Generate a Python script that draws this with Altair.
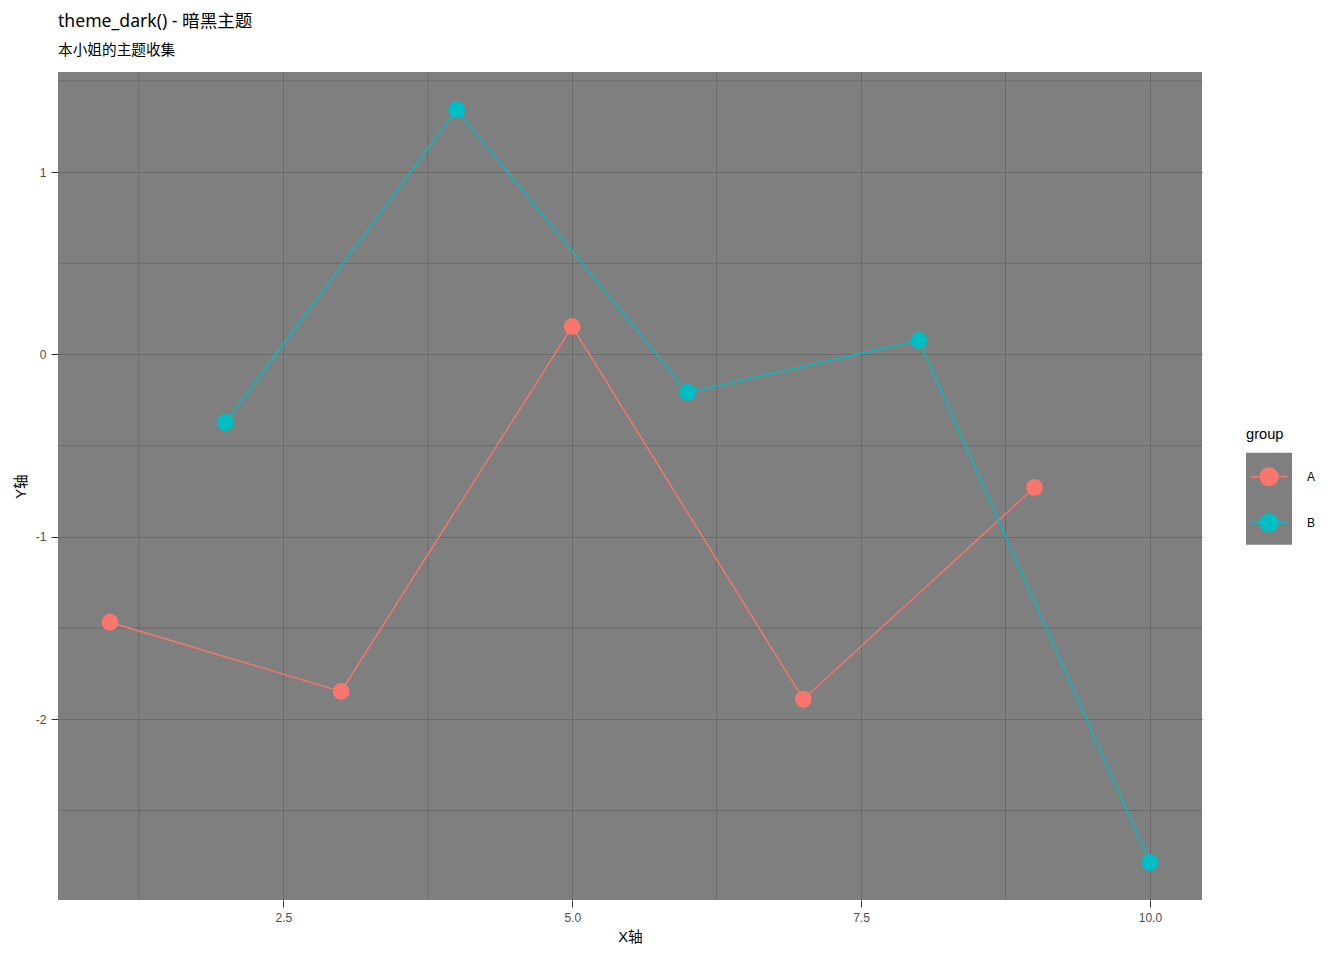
import altair as alt
import pandas as pd

# ---- data ----
group_a_x = [1, 3, 5, 7, 9]
group_a_y = [-1.468, -1.847, 0.153, -1.890, -0.729]
group_b_x = [2, 4, 6, 8, 10]
group_b_y = [-0.373, 1.342, -0.208, 0.077, -2.784]
groups = ["A", "B"]
colors = ["#F8766D", "#00BFC4"]
x_major = [2.5, 5.0, 7.5, 10.0]
x_minor = [1.25, 3.75, 6.25, 8.75]
y_major = [-2, -1, 0, 1]
y_minor = [-2.5, -1.5, -0.5, 0.5, 1.5]

df = pd.DataFrame({
    "x": group_a_x + group_b_x,
    "y": group_a_y + group_b_y,
    "group": ["A"] * len(group_a_x) + ["B"] * len(group_b_x),
})
df["keybg"] = "key"

# ggplot-like 5% expansion
xlo, xhi = df["x"].min(), df["x"].max()
ylo, yhi = df["y"].min(), df["y"].max()
px = 0.05 * (xhi - xlo)
py = 0.05 * (yhi - ylo)
x_scale = alt.Scale(domain=[xlo - px, xhi + px], nice=False, zero=False)
y_scale = alt.Scale(domain=[ylo - py, yhi + py], nice=False, zero=False)

LAT = "Liberation Sans, Noto Sans CJK SC, sans-serif"
GRID = "#6B6B6B"
PANEL = "#7F7F7F"

x_axis = alt.Axis(values=x_major, format=".1f", title="X轴", grid=True,
                  gridColor=GRID, gridWidth=1, domain=False,
                  tickColor="#333333", tickSize=7, tickWidth=1,
                  labelColor="#4D4D4D", labelFontSize=12, labelFont=LAT,
                  labelPadding=5, titleFont=LAT, titleFontSize=14.67,
                  titleFontWeight="normal", titleColor="#000000", titlePadding=6)
y_axis = alt.Axis(values=y_major, labelExpr="'' + datum.value", title="Y轴",
                  grid=True, gridColor=GRID, gridWidth=1, domain=False,
                  tickColor="#333333", tickSize=7, tickWidth=1,
                  labelColor="#4D4D4D", labelFontSize=12, labelFont=LAT,
                  labelPadding=5, titleFont=LAT, titleFontSize=14.67,
                  titleFontWeight="normal", titleColor="#000000", titlePadding=7)

# legend key symbol: circle with a horizontal line through it, in a 46px key
# (zero-area corner points make the symbol bounds span the whole key)
key_path = ("M-1,-1L-1,-1ZM1,1L1,1Z"
            "M-0.8,-0.036L-0.4,-0.036L-0.4,0.036L-0.8,0.036Z"
            "M0.4,-0.036L0.8,-0.036L0.8,0.036L0.4,0.036Z"
            "M-0.413,0A0.413,0.413,0,1,1,0.413,0A0.413,0.413,0,1,1,-0.413,0Z")
# key background: one grey block covering both 46px keys
bg_path = "M-1,-1L1,-1L1,3L-1,3Z"

legend_common = dict(orient="none", legendX=1188, symbolSize=2116,
                     padding=0, labelOffset=15, labelFontSize=12,
                     labelFont=LAT, labelColor="#000000", offset=0,
                     symbolStrokeWidth=0, symbolOpacity=1, rowPadding=0)

fg_legend = alt.Legend(symbolType=key_path, zindex=2, legendY=355,
                       title="group", titleColor="#000000", titleFontSize=14.67,
                       titleFont=LAT, titleFontWeight="normal", titlePadding=12,
                       **legend_common)
bg_legend = alt.Legend(symbolType=bg_path, zindex=1, legendY=380.67,
                       title=None, labelExpr="''", **legend_common)

color_enc = alt.Color("group:N", scale=alt.Scale(domain=groups, range=colors),
                      legend=fg_legend)
x_enc = alt.X("x:Q", scale=x_scale, axis=x_axis)
y_enc = alt.Y("y:Q", scale=y_scale, axis=y_axis)

base = alt.Chart(df)

minor_x = alt.Chart(pd.DataFrame({"v": x_minor})).mark_rule(
    color=GRID, strokeWidth=1).encode(x=alt.X("v:Q", scale=x_scale, axis=x_axis))
minor_y = alt.Chart(pd.DataFrame({"v": y_minor})).mark_rule(
    color=GRID, strokeWidth=1).encode(y=alt.Y("v:Q", scale=y_scale, axis=y_axis))

bg_layer = base.mark_square(size=0, opacity=1, strokeWidth=0).encode(
    x=x_enc, y=y_enc,
    fill=alt.Fill("keybg:N", scale=alt.Scale(range=[PANEL]), legend=bg_legend),
)

lines = base.mark_line(strokeWidth=1.4).encode(x=x_enc, y=y_enc, color=color_enc)

points = base.mark_point(filled=True, size=283, opacity=1, strokeWidth=0).encode(
    x=x_enc, y=y_enc, color=color_enc)

chart = alt.layer(minor_x, minor_y, bg_layer, points, lines).properties(
    width=1144,
    height=828,
    autosize=alt.AutoSizeParams(type="none"),
    padding={"left": 50, "top": 64, "right": 134, "bottom": 52},
    title=alt.TitleParams(
        text="theme_dark() - 暗黑主题",
        subtitle="本小姐的主题收集",
        anchor="start",
        frame="group",
        font="Noto Sans, Noto Sans CJK SC, sans-serif",
        fontSize=17.6,
        fontWeight="normal",
        color="#000000",
        subtitleFont="Noto Sans CJK SC, sans-serif",
        subtitleFontSize=14.67,
        subtitleColor="#000000",
        subtitlePadding=12,
        offset=14,
    ),
).configure_view(fill=PANEL, strokeWidth=0)

chart.save("out.html", embed_options={"renderer": "svg", "actions": False})
